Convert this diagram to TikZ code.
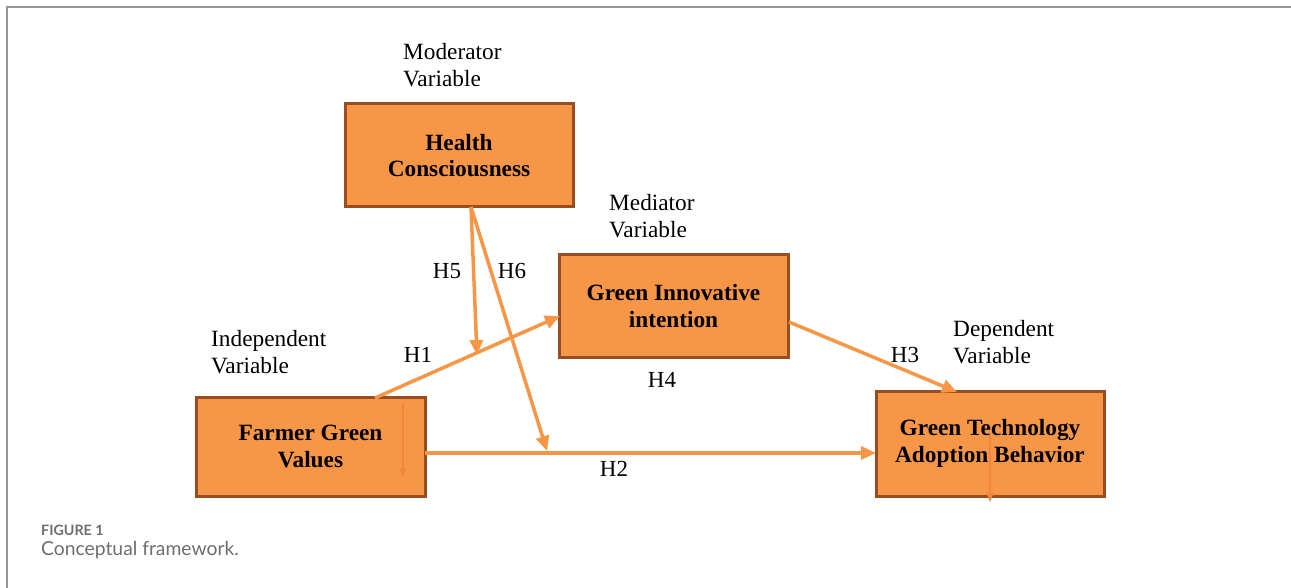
\documentclass[tikz,border=0pt]{standalone}
\usepackage{fontspec}
\setmainfont{Liberation Serif}
\newfontfamily\capfont{Lato}
\usetikzlibrary{arrows.meta}
\definecolor{boxfill}{RGB}{247,150,70}
\definecolor{boxline}{RGB}{152,78,32}
\definecolor{arrcol}{RGB}{247,150,70}
\definecolor{thincol}{RGB}{240,135,60}
\definecolor{framecol}{RGB}{150,150,150}
\definecolor{capcol}{RGB}{110,110,110}
\tikzset{
  varbox/.style={draw=boxline, fill=boxfill, line width=3pt, inner sep=0pt, align=center,
    font=\fontsize{23.3}{26.5}\selectfont\bfseries},
  lbl/.style={anchor=west, align=left, inner sep=0pt, font=\fontsize{23.3}{27}\selectfont},
  hlbl/.style={inner sep=0pt, font=\fontsize{23}{26}\selectfont},
  mainarr/.style={draw=arrcol, line width=3.5pt, -{Triangle[length=15pt,width=13pt]}},
  thinarr/.style={draw=thincol, line width=1.3pt, -{Triangle[length=9pt,width=7pt]}},
}
\begin{document}
\begin{tikzpicture}[x=1pt,y=-1pt]
\useasboundingbox (0,0) rectangle (1291,588);
% frame
\draw[framecol, line width=1.3pt] (7,588) -- (7,7) -- (1291,7);
% boxes
\node[varbox, minimum width=228pt, minimum height=103pt] (hc) at (459,155.5) {Health\\Consciousness};
\node[varbox, minimum width=229pt, minimum height=102pt] (gii) at (673.5,306) {Green Innovative\\intention};
\node[varbox, minimum width=229pt, minimum height=99pt] (fgv) at (310.5,446.5) {Farmer Green\\Values};
\node[varbox, minimum width=228pt, minimum height=105pt] (gta) at (990,443.5) {\raisebox{2pt}{\begin{tabular}{@{}c@{}}Green Technology\\[0.5pt]Adoption Behavior\end{tabular}}};
% variable labels
\node[lbl] (lmod) at (403,65.5) {Moderator\\Variable};
\node[lbl] (lmed) at (609,216.5) {Mediator\\Variable};
\node[lbl] (lind) at (211,352) {Independent\\Variable};
\node[lbl] (ldep) at (953,342) {Dependent\\Variable};
% hypothesis labels
\node[hlbl] (h5) at (447,271) {H5};
\node[hlbl] (h6) at (512,271) {H6};
\node[hlbl] (h1) at (418,355) {H1};
\node[hlbl] (h4) at (662,380) {H4};
\node[hlbl] (h3) at (905,355) {H3};
\node[hlbl] (h2) at (614,469) {H2};
% connector coordinates
\coordinate (hcs) at (471,207);
\coordinate (fgvn) at (375,398);
\coordinate (giiw) at (560,316);
\coordinate (giie) at (789,322);
\coordinate (gtan) at (957,392);
\coordinate (fgve) at (425,453);
\coordinate (gtaw) at (876,453);
\coordinate (onh1) at (477,355);
\coordinate (onh2) at (547,451);
\coordinate (fa) at (403,403);
\coordinate (fb) at (403,477);
\coordinate (ga) at (990,435);
\coordinate (gb) at (990,502);
% arrows
\draw[mainarr] (fgvn) -- (giiw);
\draw[mainarr] (giie) -- (gtan);
\draw[mainarr] (fgve) -- (gtaw);
\draw[mainarr] (hcs) -- (onh1);
\draw[mainarr] (hcs) -- (onh2);
\draw[thinarr] (fa) -- (fb);
\draw[thinarr] (ga) -- (gb);
% caption
\node[anchor=west, inner sep=0pt, text=capcol, font=\capfont\bfseries\fontsize{14.3}{16}\selectfont] (cap1) at (41,530) {FIGURE 1};
\node[anchor=west, inner sep=0pt, text=capcol, font=\capfont\fontsize{19.3}{22}\selectfont] (cap2) at (41,550) {Conceptual framework.};
\end{tikzpicture}
\end{document}
